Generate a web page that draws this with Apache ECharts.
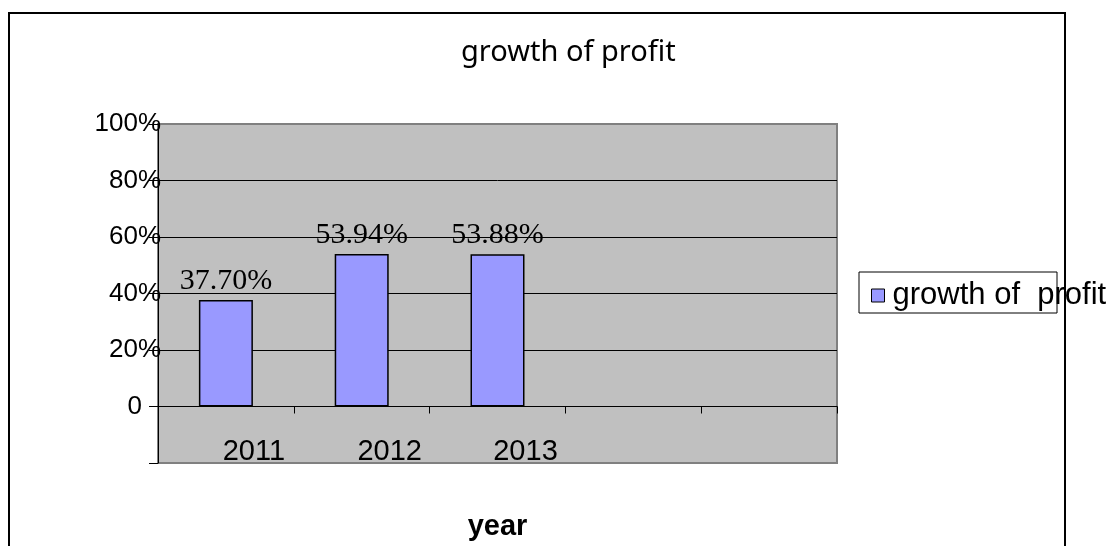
<!DOCTYPE html>
<html>
<head>
<meta charset="utf-8">
<title>growth of profit</title>
<script src="https://cdn.jsdelivr.net/npm/echarts@6/dist/echarts.min.js"></script>
<style>
  html, body { margin: 0; padding: 0; background: #ffffff; }
  #chart { width: 1120px; height: 546px; }
</style>
</head>
<body>
<div id="chart"></div>
<script>
// Profit growth by year (percent)
const categories = ['2011', '2012', '2013', '', ''];
const growth = [37.70, 53.94, 53.88, null, null];
const seriesName = 'growth of  profit';
const titleText = 'growth of profit';
const axisTitle = 'year';
const yMin = -20, yMax = 100, yStep = 20;

const chart = echarts.init(document.getElementById('chart'));

const sans = '"Liberation Sans", Arial, sans-serif';
const serif = '"Liberation Serif", "Times New Roman", serif';

chart.setOption({
  animation: false,
  backgroundColor: '#ffffff',
  title: {
    text: titleText,
    left: 456,
    top: 33,
    textStyle: { fontFamily: '"Noto Sans", sans-serif', fontSize: 29, fontWeight: 'normal', color: '#000' }
  },
  legend: {
    left: 866,
    top: 275,
    itemWidth: 13,
    itemHeight: 13,
    icon: 'rect',
    itemStyle: { borderColor: '#000', borderWidth: 1 },
    textStyle: { fontFamily: sans, fontSize: 31, color: '#000', padding: [0, 0, 0, 3] },
    data: [seriesName]
  },
  grid: {
    left: 158,
    top: 124,
    right: 283,
    bottom: 83,
    outerBoundsMode: 'none',
    containLabel: false,
    show: true,
    backgroundColor: '#c0c0c0',
    borderColor: '#808080',
    borderWidth: 2
  },
  xAxis: {
    type: 'category',
    data: categories,
    name: axisTitle,
    nameLocation: 'middle',
    nameGap: 49,
    nameTextStyle: { fontFamily: sans, fontSize: 29, fontWeight: 'bold', color: '#000' },
    axisLine: { onZero: true, lineStyle: { color: '#000', width: 1 } },
    axisTick: { show: true, inside: false, length: 7, alignWithLabel: false, lineStyle: { color: '#000' } },
    axisLabel: {
      margin: -26,
      fontFamily: sans,
      fontSize: 29,
      color: '#000',
      padding: [0, 0, 0, 56]
    },
    splitLine: { show: false }
  },
  yAxis: {
    type: 'value',
    min: yMin,
    max: yMax,
    interval: yStep,
    axisLine: { show: true, lineStyle: { color: '#000', width: 1 } },
    axisTick: { show: true, inside: false, length: 9, lineStyle: { color: '#000' } },
    axisLabel: {
      margin: -3,
      fontFamily: sans,
      fontSize: 26,
      color: '#000',
      formatter: function (v) {
        if (v < 0) return '';
        if (v === 0) return '{z|0}';
        return v + '%';
      },
      rich: {
        z: { fontFamily: sans, fontSize: 26, color: '#000', padding: [0, 19, 0, 0] }
      }
    },
    splitLine: {
      show: true,
      lineStyle: {
        color: ['rgba(0,0,0,0)', '#000', '#000', '#000', '#000', '#000', 'rgba(0,0,0,0)'],
        width: 1
      }
    }
  },
  series: [{
    name: seriesName,
    type: 'bar',
    data: growth,
    barWidth: 54,
    itemStyle: { color: '#9999ff', borderColor: '#000', borderWidth: 1.5 },
    label: {
      show: true,
      position: 'top',
      distance: 4,
      fontFamily: serif,
      fontSize: 30,
      color: '#000',
      formatter: function (p) { return p.value.toFixed(2) + '%'; }
    }
  }],
  graphic: [
    {
      type: 'polyline',
      shape: { points: [[9, 560], [9, 13], [1065, 13], [1065, 560]] },
      style: { stroke: '#000', lineWidth: 2, fill: null },
      z: 100
    },
    {
      type: 'rect',
      shape: { x: 859, y: 272, width: 198, height: 41 },
      style: { stroke: '#000', lineWidth: 1, fill: null },
      z: 50
    }
  ]
});
</script>
</body>
</html>
